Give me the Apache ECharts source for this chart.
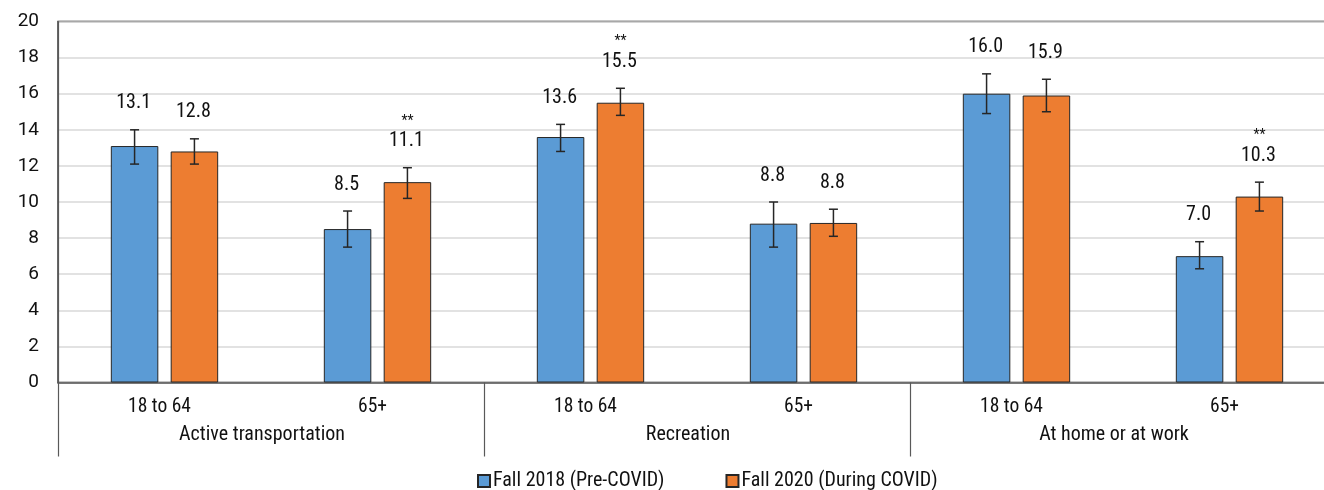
<!DOCTYPE html>
<html>
<head>
<meta charset="utf-8">
<script src="https://cdn.jsdelivr.net/npm/echarts@6/dist/echarts.min.js"></script>
<style>
html,body{margin:0;padding:0;background:#fff;}
#main{width:1324px;height:490px;}
</style>
</head>
<body>
<div id="main"></div>
<script>
const categories = ['18 to 64', '65+', '18 to 64', '65+', '18 to 64', '65+'];
const groups = ['Active transportation', 'Recreation', 'At home or at work'];
const seriesNames = ['Fall 2018 (Pre-COVID)', 'Fall 2020 (During COVID)'];
const preValues = [13.1, 8.5, 13.6, 8.8, 16.0, 7.0];
const preLow = [12.1, 7.5, 12.8, 7.5, 14.9, 6.3];
const preHigh = [14.0, 9.5, 14.3, 10.0, 17.1, 7.8];
const duringValues = [12.8, 11.1, 15.5, 8.84, 15.9, 10.3];
const duringLow = [12.1, 10.2, 14.8, 8.1, 15.0, 9.5];
const duringHigh = [13.5, 11.9, 16.3, 9.6, 16.8, 11.1];
const duringSig = [false, true, true, false, false, true];
const yTicks = [0, 2, 4, 6, 8, 10, 12, 14, 16, 18, 20];

const FONT = "Roboto, 'Noto Sans', sans-serif";
const STRETCH = 'semi-condensed';
const TXT = '#111';
const BLUE = '#5b9bd5', ORANGE = '#ed7d31';
const BAR_W = 0.223, BAR_GAP = 0.26;

function errData(values, low, high, sig, side) {
  return values.map((v, i) => [i, low[i], high[i], v, sig ? (sig[i] ? 1 : 0) : 0, side]);
}

function renderErr(params, api) {
  const i = api.value(0), lo = api.value(1), hi = api.value(2), v = api.value(3), s = api.value(4), side = api.value(5);
  const bandW = api.size([1, 0])[0];
  const off = bandW * BAR_W * (1 + BAR_GAP) / 2 * side;
  const pLo = api.coord([i, lo]);
  const pHi = api.coord([i, hi]);
  const x = pLo[0] + off;
  const cap = 4.5;
  const ls = { stroke: '#262626', lineWidth: 1.5 };
  const children = [
    { type: 'line', shape: { x1: x, y1: pLo[1], x2: x, y2: pHi[1] }, style: ls },
    { type: 'line', shape: { x1: x - cap, y1: pLo[1], x2: x + cap, y2: pLo[1] }, style: ls },
    { type: 'line', shape: { x1: x - cap, y1: pHi[1], x2: x + cap, y2: pHi[1] }, style: ls },
    { type: 'text', style: { text: v.toFixed(1), x: x - 1, y: pHi[1] - 16.5, align: 'center', verticalAlign: 'bottom', textAlign: 'center', textVerticalAlign: 'bottom', fill: TXT, font: STRETCH + " 20px " + FONT } }
  ];
  if (s) {
    children.push({ type: 'text', style: { text: '**', x: x, y: pHi[1] - 39.5, align: 'center', verticalAlign: 'bottom', textAlign: 'center', textVerticalAlign: 'bottom', fill: TXT, font: STRETCH + " 14px " + FONT } });
  }
  return { type: 'group', children: children };
}

const chart = echarts.init(document.getElementById('main'), null, { renderer: 'canvas' });
chart.setOption({
  animation: false,
  backgroundColor: '#fff',
  textStyle: { fontFamily: FONT },
  grid: { left: 58, top: 21.5, width: 1278, height: 361, outerBoundsMode: 'none', containLabel: false, show: true, borderColor: '#1a1a1a', borderWidth: 1.3, backgroundColor: 'transparent' },
  legend: {
    left: 472, top: 466, itemWidth: 12, itemHeight: 12, itemGap: 61, icon: 'rect',
    textStyle: { fontSize: 20, color: TXT, fontFamily: FONT, fontStyle: STRETCH, padding: [0, 0, 0, -2] },
    data: seriesNames
  },
  xAxis: [
    {
      type: 'category', data: categories, position: 'bottom',
      axisLine: { show: true, lineStyle: { color: '#595959', width: 1.5 } },
      axisTick: { show: false },
      axisLabel: { fontSize: 19.5, color: TXT, margin: 15, fontFamily: FONT, fontStyle: STRETCH, padding: [0, 10, 0, 0] }
    },
    {
      type: 'category', data: groups, position: 'bottom',
      axisLine: { show: false },
      axisTick: { show: true, length: 74, lineStyle: { color: '#595959', width: 1.2 } },
      axisLabel: { fontSize: 20, color: TXT, margin: 42, fontFamily: FONT, fontStyle: STRETCH, padding: [0, 18, 0, 0] }
    }
  ],
  yAxis: {
    type: 'value', min: 0, max: 20, interval: 2,
    axisLine: { show: true, lineStyle: { color: '#595959', width: 1.2 } },
    axisTick: { show: false },
    axisLabel: { fontSize: 19, color: TXT, margin: 19, fontFamily: FONT },
    splitLine: { show: true, lineStyle: { color: '#d9d9d9', width: 1.5 } }
  },
  series: [
    { name: seriesNames[0], type: 'bar', xAxisIndex: 0, data: preValues, barWidth: (BAR_W * 100) + '%', barGap: (BAR_GAP * 100) + '%',
      itemStyle: { color: BLUE, borderColor: '#262626', borderWidth: 1 } },
    { name: seriesNames[1], type: 'bar', xAxisIndex: 0, data: duringValues, barWidth: (BAR_W * 100) + '%', barGap: (BAR_GAP * 100) + '%',
      itemStyle: { color: ORANGE, borderColor: '#262626', borderWidth: 1 } },
    { type: 'custom', xAxisIndex: 0, renderItem: renderErr, data: errData(preValues, preLow, preHigh, null, -1), encode: { x: 0, y: [1, 2] }, z: 10, silent: true },
    { type: 'custom', xAxisIndex: 0, renderItem: renderErr, data: errData(duringValues, duringLow, duringHigh, duringSig, 1), encode: { x: 0, y: [1, 2] }, z: 10, silent: true }
  ]
});
</script>
</body>
</html>
